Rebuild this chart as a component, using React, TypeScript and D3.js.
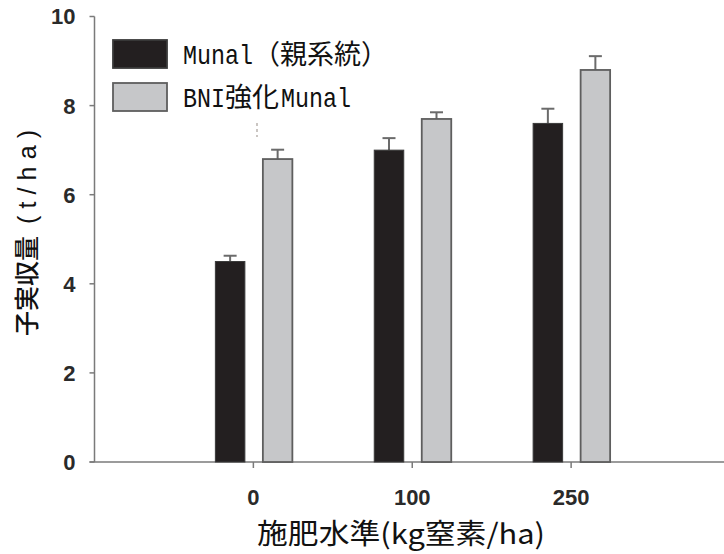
import React, { useEffect, useRef } from "react";
import * as d3 from "d3";

const categories = ["0", "100", "250"];
const seriesNames = ["Munal（親系統）", "BNI強化Munal"];
const munalValues = [4.5, 7.0, 7.6];
const munalErrors = [0.13, 0.27, 0.33];
const bniValues = [6.8, 7.7, 8.8];
const bniErrors = [0.21, 0.15, 0.31];
const yTicks = [0, 2, 4, 6, 8, 10];

const W = 724;
const H = 554;

export default function App() {
  const ref = useRef<SVGSVGElement | null>(null);

  useEffect(() => {
    document.body.style.margin = "0";
    const svg = d3.select(ref.current);
    svg.selectAll("*").remove();

    const x = d3.scaleLinear().domain([0, 4]).range([94.5, 730]);
    const y = d3.scaleLinear().domain([0, 10]).range([462, 16.5]);
    const sub = d3
      .scaleBand<string>()
      .domain(["munal", "bni"])
      .range([-38, 39])
      .paddingInner(0.379)
      .paddingOuter(0);

    const axisColor = "#7a7a7a";
    const tickFont = "'Liberation Sans', Arial, sans-serif";
    const monoFont = "'Liberation Mono', 'DejaVu Sans Mono', monospace";
    const cjkFont = "'Noto Sans CJK JP', sans-serif";

    // Y axis
    const gy = svg.append("g");
    gy.append("line")
      .attr("x1", x(0)).attr("x2", x(0))
      .attr("y1", y(10)).attr("y2", y(0))
      .attr("stroke", axisColor).attr("stroke-width", 1.5);
    yTicks.forEach((t) => {
      gy.append("line")
        .attr("x1", x(0) - 5).attr("x2", x(0))
        .attr("y1", y(t)).attr("y2", y(t))
        .attr("stroke", axisColor).attr("stroke-width", 1.5);
      gy.append("text")
        .attr("x", x(0) - 19)
        .attr("y", y(t))
        .attr("dy", "0.36em")
        .attr("text-anchor", "end")
        .attr("font-family", tickFont)
        .attr("font-weight", "bold")
        .attr("font-size", 22)
        .attr("fill", "#2a2a2a")
        .text(String(t));
    });

    // X axis
    const gx = svg.append("g");
    gx.append("line")
      .attr("x1", x(0) - 5).attr("x2", W)
      .attr("y1", y(0)).attr("y2", y(0))
      .attr("stroke", axisColor).attr("stroke-width", 1.5);
    categories.forEach((c, i) => {
      const cx = x(i + 1);
      gx.append("line")
        .attr("x1", cx).attr("x2", cx)
        .attr("y1", y(0)).attr("y2", y(0) + 6)
        .attr("stroke", axisColor).attr("stroke-width", 1.5);
      gx.append("text")
        .attr("x", cx)
        .attr("y", 505)
        .attr("text-anchor", "middle")
        .attr("font-family", tickFont)
        .attr("font-weight", "bold")
        .attr("font-size", 22)
        .attr("fill", "#2a2a2a")
        .text(c);
    });

    // Bars
    const series = [
      { key: "munal", values: munalValues, errors: munalErrors, fill: "#231f20", stroke: "#3a3a3a", sw: 1 },
      { key: "bni", values: bniValues, errors: bniErrors, fill: "#c6c7c9", stroke: "#5e5e5e", sw: 1.8 },
    ];
    const gb = svg.append("g");
    series.forEach((s) => {
      s.values.forEach((v, i) => {
        const bx = x(i + 1) + (sub(s.key) as number);
        const bw = sub.bandwidth();
        const cxm = bx + bw / 2;
        gb.append("line")
          .attr("x1", cxm).attr("x2", cxm)
          .attr("y1", y(v)).attr("y2", y(v + s.errors[i]))
          .attr("stroke", "#6b6b6b").attr("stroke-width", 2);
        gb.append("line")
          .attr("x1", cxm - 6.5).attr("x2", cxm + 6.5)
          .attr("y1", y(v + s.errors[i])).attr("y2", y(v + s.errors[i]))
          .attr("stroke", "#6b6b6b").attr("stroke-width", 2);
        gb.append("rect")
          .attr("x", bx)
          .attr("y", y(v))
          .attr("width", bw)
          .attr("height", y(0) - y(v))
          .attr("fill", s.fill)
          .attr("stroke", s.stroke)
          .attr("stroke-width", s.sw);
      });
    });

    // small artifact mark
    svg.append("line")
      .attr("x1", 257).attr("x2", 257)
      .attr("y1", 123).attr("y2", 137)
      .attr("stroke", "#a8a09a").attr("stroke-width", 1.2)
      .attr("stroke-dasharray", "3 3");

    // Legend: each segment as its own text, laid out on a half-width (14px) grid
    const half = 14;
    const monoFs = 28;
    const monoScale = half / (monoFs * 0.6);
    const lg = svg.append("g");
    const legendRows = [
      { fill: "#231f20", stroke: "#3a3a3a", y: 40, parts: [["m", "Munal"], ["c", "（親系統）"]] },
      { fill: "#c6c7c9", stroke: "#5e5e5e", y: 83, parts: [["m", "BNI"], ["c", "強化"], ["m", "Munal"]] },
    ];
    legendRows.forEach((r, ri) => {
      lg.append("rect")
        .attr("x", 113).attr("y", r.y)
        .attr("width", 54).attr("height", 28)
        .attr("fill", r.fill).attr("stroke", r.stroke).attr("stroke-width", 1.8);
      const g = lg.append("g").attr("aria-label", seriesNames[ri]);
      let cx = 183;
      const base = r.y + 23.5;
      r.parts.forEach((p) => {
        const isMono = p[0] === "m";
        const cells = isMono ? p[1].length : p[1].length * 2;
        if (isMono) {
          g.append("text")
            .attr("transform", `translate(${cx},${base}) scale(${monoScale},1)`)
            .attr("font-family", monoFont)
            .attr("font-size", monoFs)
            .attr("fill", "#111")
            .text(p[1]);
        } else {
          g.append("text")
            .attr("x", cx)
            .attr("y", base)
            .attr("font-family", cjkFont)
            .attr("font-size", 27)
            .attr("fill", "#111")
            .text(p[1]);
        }
        cx += cells * half;
      });
    });

    // Y title (rotated): CJK part then spaced "(t/ha)"
    svg.append("text")
      .attr("transform", "rotate(-90)")
      .attr("x", -336)
      .attr("y", 36)
      .attr("font-family", cjkFont)
      .attr("font-size", 25)
      .attr("font-weight", 500)
      .attr("fill", "#111")
      .text("子実収量");
    svg.append("text")
      .attr("transform", "rotate(-90)")
      .attr("x", -224)
      .attr("y", 36)
      .attr("font-family", tickFont)
      .attr("font-size", 25)
      .attr("fill", "#111")
      .attr("textLength", 94)
      .attr("lengthAdjust", "spacing")
      .text("(t/ha)");

    // X title
    svg.append("text")
      .attr("x", 257)
      .attr("y", 544)
      .attr("font-family", cjkFont)
      .attr("font-size", 28)
      .attr("fill", "#111")
      .attr("textLength", 288)
      .attr("lengthAdjust", "spacingAndGlyphs")
      .text("施肥水準(kg窒素/ha)");
  }, []);

  return (
    <svg
      ref={ref}
      width={W}
      height={H}
      style={{ position: "absolute", left: 0, top: 0, background: "#fff" }}
    />
  );
}
